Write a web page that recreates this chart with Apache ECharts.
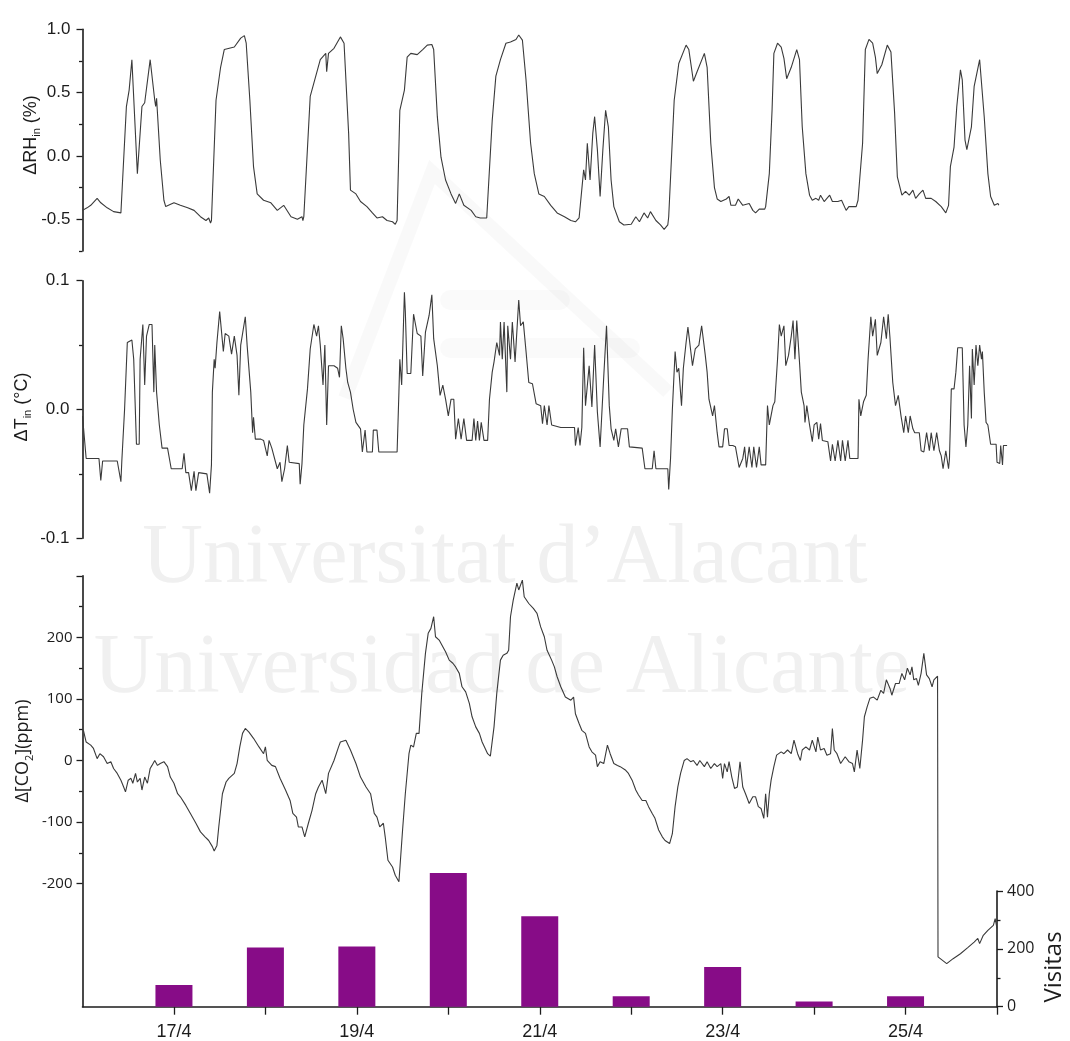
<!DOCTYPE html>
<html><head><meta charset="utf-8">
<script src="https://cdn.jsdelivr.net/npm/echarts@6/dist/echarts.min.js"></script>
<style>html,body{margin:0;padding:0;background:#fff}#chart{width:1070px;height:1041px}</style>
</head><body><div id="chart"></div>
<script>
// ---------- DATA (day of April, value) ----------
const rhSeries = [[16.00,-0.43],[16.05,-0.41],[16.09,-0.39],[16.16,-0.335],[16.20,-0.37],[16.27,-0.41],[16.34,-0.44],[16.42,-0.45],[16.43,-0.44],[16.48,0.39],[16.51,0.52],[16.54,0.76],[16.60,-0.14],[16.65,0.39],[16.68,0.42],[16.74,0.76],[16.79,0.44],[16.80,0.39],[16.81,0.455],[16.85,-0.03],[16.89,-0.35],[16.91,-0.40],[16.93,-0.39],[17.00,-0.37],[17.07,-0.39],[17.15,-0.41],[17.22,-0.43],[17.29,-0.48],[17.35,-0.51],[17.38,-0.49],[17.40,-0.53],[17.41,-0.51],[17.46,0.44],[17.51,0.70],[17.55,0.84],[17.66,0.86],[17.73,0.93],[17.77,0.95],[17.79,0.89],[17.83,0.44],[17.87,-0.085],[17.91,-0.30],[17.98,-0.35],[18.06,-0.37],[18.13,-0.43],[18.20,-0.39],[18.28,-0.48],[18.35,-0.50],[18.40,-0.48],[18.41,-0.51],[18.42,-0.48],[18.49,0.47],[18.60,0.76],[18.66,0.81],[18.67,0.665],[18.69,0.81],[18.75,0.85],[18.82,0.94],[18.83,0.955],[18.86,0.89],[18.91,0.18],[18.93,-0.27],[18.99,-0.30],[19.04,-0.36],
[19.11,-0.40],[19.17,-0.45],[19.22,-0.49],[19.28,-0.48],[19.33,-0.51],[19.39,-0.52],[19.42,-0.54],[19.44,-0.51],[19.47,0.36],[19.52,0.52],[19.55,0.78],[19.59,0.81],[19.66,0.80],[19.72,0.84],[19.77,0.875],[19.82,0.88],[19.84,0.84],[19.88,0.31],[19.92,-0.01],[19.97,-0.19],[20.03,-0.30],[20.08,-0.375],[20.12,-0.30],[20.17,-0.39],[20.25,-0.43],[20.30,-0.48],[20.35,-0.49],[20.42,-0.49],[20.43,-0.48],[20.48,0.28],[20.52,0.63],[20.57,0.76],[20.63,0.89],[20.68,0.90],[20.74,0.92],[20.77,0.955],[20.81,0.915],[20.85,0.60],[20.90,0.10],[20.94,-0.14],[20.99,-0.30],[21.05,-0.32],[21.12,-0.39],[21.19,-0.45],[21.27,-0.48],[21.34,-0.51],[21.39,-0.52],[21.43,-0.49],[21.45,-0.48],[21.48,-0.11],[21.50,-0.19],[21.52,0.10],[21.55,-0.19],[21.58,0.18],[21.60,0.31],[21.63,0.05],[21.66,-0.32],[21.69,0.05],[21.72,0.36],[21.75,0.23],[21.78,-0.19],[21.81,-0.40],[21.87,-0.52],[21.92,-0.545],[22.00,-0.54],[22.05,-0.48],[22.09,-0.52],[22.14,-0.45],[22.18,-0.49],[22.21,-0.44],[22.27,-0.51],[22.32,-0.545],[22.36,-0.58],[22.40,-0.545],[22.41,-0.48],[22.47,0.44],[22.52,0.73],[22.60,0.875],[22.63,0.84],[22.65,0.84],[22.68,0.59],[22.72,0.665],[22.80,0.81],[22.83,0.70],[22.87,0.10],[22.91,-0.25],[22.94,-0.34],[22.98,-0.36],
[23.04,-0.34],[23.07,-0.32],[23.09,-0.39],[23.14,-0.39],[23.17,-0.34],[23.22,-0.39],[23.29,-0.375],[23.33,-0.43],[23.36,-0.45],[23.40,-0.42],[23.46,-0.42],[23.47,-0.40],[23.51,-0.14],[23.54,0.36],[23.56,0.81],[23.60,0.89],[23.64,0.86],[23.67,0.77],[23.70,0.61],[23.75,0.70],[23.81,0.84],[23.84,0.76],[23.87,0.23],[23.91,-0.14],[23.95,-0.31],[23.98,-0.35],[24.02,-0.335],[24.05,-0.35],[24.07,-0.31],[24.11,-0.36],[24.17,-0.31],[24.20,-0.36],[24.26,-0.36],[24.30,-0.35],[24.35,-0.43],[24.38,-0.40],[24.46,-0.40],[24.48,-0.35],[24.53,0.10],[24.56,0.84],[24.60,0.92],[24.64,0.89],[24.67,0.78],[24.69,0.65],[24.74,0.72],[24.80,0.875],[24.84,0.82],[24.88,0.34],[24.91,-0.165],[24.96,-0.31],[25.00,-0.28],[25.04,-0.31],[25.08,-0.27],[25.11,-0.335],[25.15,-0.30],[25.19,-0.27],[25.22,-0.335],[25.28,-0.335],[25.33,-0.36],[25.39,-0.40],[25.44,-0.45],[25.47,-0.39],[25.49,-0.085],[25.53,0.07],[25.56,0.39],[25.60,0.68],[25.62,0.60],[25.65,0.125],[25.67,0.05],[25.72,0.23],[25.75,0.55],[25.81,0.76],[25.83,0.745],[25.86,0.31],[25.90,-0.14],[25.93,-0.32],[25.97,-0.39],[26.01,-0.375],[26.02,-0.39]];

const tSeries = [[16.00,-0.005],[16.04,-0.038],[16.18,-0.038],[16.20,-0.055],[16.22,-0.040],[16.38,-0.040],[16.42,-0.056],[16.43,-0.040],[16.46,0.0],[16.49,0.052],[16.54,0.054],[16.56,0.039],[16.59,-0.027],[16.62,-0.027],[16.63,0.039],[16.66,0.066],[16.68,0.019],[16.70,0.057],[16.73,0.066],[16.76,0.066],[16.78,0.0135],[16.79,0.050],[16.81,0.0135],[16.84,-0.012],[16.87,-0.030],[16.93,-0.030],[16.97,-0.046],[17.09,-0.046],[17.11,-0.034],[17.13,-0.049],[17.16,-0.049],[17.19,-0.063],[17.22,-0.048],[17.24,-0.063],[17.27,-0.049],[17.36,-0.050],[17.39,-0.065],[17.41,-0.043],[17.42,0.0135],[17.44,0.039],[17.45,0.032],[17.47,0.052],[17.50,0.076],[17.54,0.045],[17.56,0.059],[17.60,0.057],[17.63,0.043],[17.66,0.057],[17.69,0.042],[17.71,0.011],[17.73,0.050],[17.78,0.072],[17.80,0.050],[17.84,0.0135],[17.86,-0.018],[17.87,-0.006],[17.89,-0.023],[17.95,-0.023],[17.98,-0.024],[18.02,-0.036],[18.04,-0.024],[18.07,-0.030],[18.09,-0.030],[18.13,-0.046],[18.16,-0.041],[18.18,-0.056],[18.21,-0.046],[18.24,-0.028],[18.26,-0.041],[18.37,-0.042],[18.38,-0.058],[18.40,-0.042],[18.42,-0.012],[18.46,0.016],[18.49,0.047],[18.53,0.066],[18.56,0.057],[18.58,0.065],[18.60,0.050],[18.63,0.019],[18.65,0.050],[18.67,-0.012],[18.69,0.034],[18.75,0.034],[18.79,0.032],[18.81,0.025],[18.83,0.065],[18.85,0.055],[18.88,0.032],[18.90,0.021],[18.93,0.0135],[18.96,0.0],[18.99,-0.010],[19.04,-0.015],
[19.06,-0.033],[19.09,-0.016],[19.11,-0.033],[19.17,-0.033],[19.18,-0.016],[19.22,-0.016],[19.24,-0.033],[19.44,-0.033],[19.46,0.0135],[19.47,0.039],[19.49,0.019],[19.52,0.091],[19.53,0.076],[19.55,0.028],[19.59,0.028],[19.62,0.074],[19.66,0.059],[19.70,0.057],[19.72,0.026],[19.75,0.060],[19.79,0.073],[19.82,0.089],[19.84,0.055],[19.88,0.034],[19.91,0.011],[19.94,0.019],[19.97,0.008],[20.00,-0.005],[20.03,0.008],[20.06,0.008],[20.08,-0.023],[20.11,-0.007],[20.14,-0.023],[20.17,-0.007],[20.20,-0.024],[20.26,-0.024],[20.28,-0.007],[20.30,-0.024],[20.32,-0.009],[20.34,-0.024],[20.36,-0.010],[20.39,-0.024],[20.43,-0.024],[20.45,0.008],[20.48,0.029],[20.50,0.037],[20.53,0.052],[20.56,0.042],[20.57,0.068],[20.59,0.039],[20.61,0.068],[20.64,0.0135],[20.65,0.065],[20.68,0.039],[20.70,0.068],[20.73,0.037],[20.75,0.037],[20.77,0.085],[20.79,0.065],[20.82,0.068],[20.85,0.045],[20.88,0.021],[20.92,0.020],[20.96,0.0045],[21.01,0.003],[21.03,-0.011],[21.05,0.003],[21.08,-0.012],[21.10,0.003],[21.13,-0.012],[21.23,-0.014],[21.38,-0.014],[21.39,-0.028],[21.42,-0.014],[21.44,-0.028],[21.46,-0.014],[21.48,0.048],[21.50,0.003],[21.54,0.034],[21.57,0.002],[21.60,0.050],[21.63,-0.002],[21.66,-0.029],[21.70,0.026],[21.73,0.065],[21.76,0.003],[21.78,-0.015],[21.81,-0.024],[21.83,-0.015],[21.86,-0.029],[21.89,-0.015],[21.96,-0.015],[21.98,-0.029],[22.12,-0.030],[22.15,-0.046],[22.23,-0.046],[22.25,-0.032],[22.27,-0.046],[22.40,-0.046],[22.41,-0.062],[22.43,-0.038],[22.45,0.0],[22.48,0.045],[22.50,0.029],[22.52,0.032],[22.55,0.003],[22.57,0.032],[22.60,0.052],[22.62,0.064],[22.64,0.052],[22.67,0.034],[22.70,0.047],[22.74,0.050],[22.77,0.065],[22.79,0.065],[22.81,0.042],[22.83,0.029],[22.85,0.008],[22.89,-0.005],[22.91,0.003],[22.94,-0.018],
[22.96,-0.029],[23.00,-0.029],[23.02,-0.015],[23.05,-0.015],[23.07,-0.028],[23.11,-0.028],[23.14,-0.029],[23.18,-0.045],[23.22,-0.038],[23.24,-0.029],[23.26,-0.045],[23.29,-0.029],[23.32,-0.045],[23.34,-0.029],[23.37,-0.045],[23.40,-0.029],[23.42,-0.043],[23.47,-0.043],[23.49,0.003],[23.51,-0.012],[23.55,0.003],[23.57,0.006],[23.60,0.039],[23.62,0.066],[23.64,0.057],[23.67,0.065],[23.69,0.034],[23.72,0.042],[23.75,0.057],[23.77,0.069],[23.79,0.039],[23.81,0.069],[23.84,0.037],[23.86,0.0135],[23.89,0.003],[23.90,-0.010],[23.92,0.003],[23.95,-0.012],[23.98,-0.025],[24.00,-0.012],[24.03,-0.010],[24.05,-0.023],[24.07,-0.011],[24.09,-0.024],[24.15,-0.025],[24.18,-0.040],[24.20,-0.027],[24.23,-0.040],[24.26,-0.024],[24.29,-0.040],[24.31,-0.024],[24.34,-0.040],[24.37,-0.024],[24.39,-0.038],[24.48,-0.038],[24.49,0.008],[24.51,-0.005],[24.54,0.006],[24.57,0.011],[24.59,0.039],[24.62,0.072],[24.64,0.057],[24.67,0.070],[24.69,0.042],[24.73,0.052],[24.76,0.072],[24.79,0.055],[24.81,0.074],[24.83,0.055],[24.86,0.021],[24.89,0.003],[24.92,0.011],[24.95,-0.005],[24.98,-0.018],[25.00,-0.005],[25.03,-0.018],[25.05,-0.005],[25.08,-0.015],[25.10,-0.018],[25.15,-0.018],[25.17,-0.032],[25.20,-0.033],[25.23,-0.018],[25.26,-0.032],[25.28,-0.018],[25.31,-0.032],[25.34,-0.018],[25.37,-0.032],[25.39,-0.036],[25.41,-0.046],[25.44,-0.032],[25.47,-0.046],[25.48,-0.038],[25.50,0.016],[25.53,0.016],[25.55,0.029],[25.57,0.048],[25.62,0.048],[25.64,-0.012],[25.66,-0.029],[25.68,-0.012],[25.70,0.034],[25.72,-0.007],[25.73,0.047],[25.75,0.019],[25.77,0.050],[25.79,0.034],[25.81,0.050],[25.83,0.039],[25.84,0.045],[25.86,0.0135],[25.88,-0.010],[25.90,-0.012],[25.93,-0.027],[25.99,-0.027],[26.00,-0.041],[26.03,-0.042],[26.04,-0.028],[26.06,-0.043],[26.07,-0.028],[26.11,-0.028]];

const co2Series = [[16.01,49],[16.04,30],[16.09,25],[16.12,19.5],[16.16,3],[16.19,11],[16.23,6],[16.27,-5],[16.31,-2],[16.34,-13],[16.38,-21],[16.42,-32],[16.45,-43],[16.47,-51],[16.50,-32],[16.53,-29],[16.55,-37],[16.58,-21],[16.60,-35],[16.63,-29],[16.65,-48],[16.68,-27],[16.71,-37],[16.74,-13],[16.76,-8],[16.79,0],[16.82,-8],[16.85,-5],[16.89,-2],[16.93,-10],[16.96,-27],[17.00,-37],[17.04,-54],[17.07,-59],[17.13,-73],[17.18,-86],[17.24,-102],[17.29,-116],[17.34,-124],[17.38,-130],[17.42,-140],[17.44,-147],[17.47,-138],[17.49,-108],[17.53,-54],[17.57,-35],[17.60,-29],[17.66,-21],[17.69,-5],[17.72,22],[17.75,44],[17.78,52],[17.82,46],[17.87,36],[17.93,22],[17.98,11],[18.00,22],[18.02,0],[18.07,-8],[18.11,-10],[18.16,-29],[18.22,-48],[18.27,-65],[18.30,-86],[18.34,-92],[18.36,-108],[18.40,-108],[18.43,-124],[18.47,-102],[18.51,-81],[18.55,-54],[18.58,-43],[18.62,-32],[18.66,-54],[18.69,-21],[18.75,0],[18.80,22],
[18.82,30],[18.88,33],[18.93,17],[18.99,-5],[19.04,-27],[19.10,-43],[19.15,-54],[19.19,-86],[19.22,-92],[19.25,-108],[19.29,-102],[19.31,-124],[19.34,-162],[19.39,-173],[19.42,-186.5],[19.46,-197],[19.50,-113],[19.53,-54],[19.57,11],[19.59,25],[19.62,22],[19.65,44],[19.68,44],[19.71,109],[19.75,174],[19.78,206.5],[19.81,214.6],[19.84,233.5],[19.86,201],[19.90,195.6],[19.94,184.7],[19.97,176.6],[20.01,163],[20.05,158],[20.08,152],[20.12,141.5],[20.15,119.7],[20.19,111.5],[20.23,92.7],[20.26,71],[20.30,54.6],[20.34,44],[20.37,30],[20.43,11],[20.46,7],[20.50,54.6],[20.53,109],[20.57,163],[20.60,171],[20.64,174],[20.66,179],[20.68,233.5],[20.71,260.6],[20.75,288],[20.77,277],[20.81,293],[20.83,266],[20.88,255],[20.93,247],[20.97,239],[21.01,217],[21.05,201],[21.08,179],[21.13,163],[21.16,152],[21.19,136],[21.23,119.7],[21.28,103],[21.34,98],[21.37,103],[21.39,76],[21.43,60],[21.46,49],[21.50,44],[21.54,22],[21.57,14],[21.61,8.6],[21.63,-10],[21.66,-2],[21.70,-5],[21.74,25],[21.77,11],[21.81,-5],[21.85,-8],[21.88,-10],[21.94,-16],[21.97,-21],[22.01,-32],[22.05,-48],[22.08,-56],[22.12,-65],[22.16,-65],[22.19,-75],[22.23,-86],[22.26,-94],[22.30,-113],[22.34,-124],[22.37,-130],[22.42,-135],[22.45,-119],[22.48,-75],[22.51,-43],[22.54,-21],[22.58,0],[22.61,3],[22.65,-2],[22.68,0],[22.72,-8],[22.75,0],
[22.80,-10],[22.83,-2],[22.87,-13],[22.91,-5],[22.94,-10],[22.98,-5],[23.00,-29],[23.02,-5],[23.05,-18.5],[23.07,-2],[23.10,-27],[23.13,-45.5],[23.16,-43],[23.19,-2],[23.22,-43],[23.25,-54],[23.29,-70],[23.33,-59],[23.36,-59],[23.39,-75],[23.42,-78],[23.45,-94],[23.47,-54],[23.49,-92],[23.51,-54],[23.53,-32],[23.56,-10],[23.59,8.6],[23.64,14],[23.67,11],[23.71,17],[23.75,11],[23.78,33],[23.82,11],[23.85,0],[23.87,17],[23.91,22],[23.95,17],[23.98,33],[24.02,14],[24.04,38],[24.07,17],[24.11,19.5],[24.14,8.6],[24.18,11],[24.20,52],[24.22,17],[24.25,11],[24.29,-5],[24.34,6],[24.38,-2],[24.42,-5],[24.44,-18.5],[24.47,17],[24.50,-13],[24.53,33],[24.55,71],[24.58,87],[24.61,101],[24.65,103],[24.69,98],[24.73,114],[24.76,109],[24.79,131],[24.83,117],[24.85,106],[24.89,125],[24.93,125],[24.96,141.5],[24.99,131],[25.02,150],[25.05,139],[25.07,152],[25.09,131],[25.12,133],[25.14,122],[25.17,141.5],[25.20,174],[25.23,139],[25.26,133],[25.29,119.7],[25.31,131],[25.35,137],
[25.355,-319],[25.45,-330],[25.52,-322],[25.60,-314],[25.68,-304],[25.75,-295],[25.79,-289],[25.81,-297.5],[25.85,-284],[25.90,-276],[25.96,-268],[25.98,-257],[26.00,-273]];

const visitDays = [17, 18, 19, 20, 21, 22, 23, 24, 25];
const visitas = [75, 205, 208, 462, 313, 36, 137, 18, 36];

// tick values and labels
const rhTicks = [-0.5, 0, 0.5, 1.0];
const rhMinorTicks = [-0.75, -0.25, 0.25, 0.75];
const tTicks = [-0.1, 0, 0.1];
const tMinorTicks = [-0.05, 0.05];
const co2Ticks = [-200, -100, 0, 100, 200, 300];
const co2Labels = [-200, -100, 0, 100, 200];
const co2MinorTicks = [-150, -50, 50, 150, 250];
const visitTicks = [0, 200, 400];
const visitMinorTicks = [100, 300];
const dayTicks = [17, 18, 19, 20, 21, 22, 23, 24, 25, 26];
const dayLabelDays = [17, 19, 21, 23, 25];
const dayLabels = ['17/4', '19/4', '21/4', '23/4', '25/4'];

// ---------- CHART ----------
const INK = '#1c1c1c';
const LINE = '#3a3a3a';
const SANS = 'Liberation Sans';
const OPEN = 'Open Sans';

function yAx(grid, min, max, pos, ticks, len, labels, labelOpt, showLine) {
  return {
    type: 'value', gridIndex: grid, min: min, max: max, position: pos,
    axisLine: { show: !!showLine, lineStyle: { color: INK, width: 1.6 } },
    axisTick: { show: true, customValues: ticks, length: len, inside: false, lineStyle: { color: INK, width: 1.3 } },
    axisLabel: labels ? Object.assign({ show: true, customValues: labels, color: INK }, labelOpt) : { show: false },
    splitLine: { show: false }, minorTick: { show: false }
  };
}

const chart = echarts.init(document.getElementById('chart'), null, { renderer: 'canvas' });
const grids = [
  { left: 82.5, top: 29.3, width: 925.5, height: 221.6 },
  { left: 82.5, top: 280.7, width: 925.5, height: 257.6 },
  { left: 82.5, top: 575.8, width: 914.5, height: 430.9 },
  { left: 82.5, top: 891, width: 914.5, height: 115.7 }
].map(g => Object.assign({ containLabel: false, outerBoundsMode: 'none', show: false }, g));

const option = {
  animation: false,
  backgroundColor: '#ffffff',
  grid: grids,
  xAxis: [
    { type: 'value', gridIndex: 0, min: 16, max: 26.12, show: false },
    { type: 'value', gridIndex: 1, min: 16, max: 26.12, show: false },
    { type: 'value', gridIndex: 2, min: 16, max: 26, position: 'bottom',
      axisLine: { show: true, onZero: false, lineStyle: { color: INK, width: 1.6 } },
      axisTick: { show: true, customValues: dayTicks, length: 8, lineStyle: { color: INK, width: 1.3 } },
      axisLabel: { show: true, customValues: dayLabelDays, margin: 16, color: INK, fontFamily: SANS, fontSize: 18,
        formatter: v => dayLabels[dayLabelDays.indexOf(Math.round(v))] || '' },
      splitLine: { show: false } },
    { type: 'value', gridIndex: 3, min: 16, max: 26, show: false }
  ],
  yAxis: [
    yAx(0, -0.75, 1.0, 'left', rhTicks, 6, rhTicks, { margin: 12, fontFamily: SANS, fontSize: 17, formatter: v => v.toFixed(1) }, true),
    yAx(0, -0.75, 1.0, 'left', rhMinorTicks, 3.5, null, null, false),
    yAx(1, -0.1, 0.1, 'left', tTicks, 6, tTicks, { margin: 13, fontFamily: SANS, fontSize: 17, formatter: v => v.toFixed(1) }, true),
    yAx(1, -0.1, 0.1, 'left', tMinorTicks, 3.5, null, null, false),
    yAx(2, -400, 300, 'left', co2Ticks, 6, co2Labels, { margin: 10, fontFamily: OPEN, fontSize: 15, formatter: v => String(Math.round(v)) }, true),
    yAx(2, -400, 300, 'left', co2MinorTicks, 3.5, null, null, false),
    yAx(3, 0, 400, 'right', visitTicks, 6, visitTicks, { margin: 10, fontFamily: OPEN, fontSize: 16, formatter: v => String(Math.round(v)) }, true),
    yAx(3, 0, 400, 'right', visitMinorTicks, 3.5, null, null, false)
  ],
  series: [
    { type: 'bar', xAxisIndex: 3, yAxisIndex: 6, barWidth: 37, clip: false, z: 2,
      itemStyle: { color: '#870c87' },
      data: visitDays.map((d, i) => [d, visitas[i]]) },
    { type: 'line', xAxisIndex: 0, yAxisIndex: 0, data: rhSeries, showSymbol: false, symbol: 'none', z: 5,
      lineStyle: { color: LINE, width: 1.1 } },
    { type: 'line', xAxisIndex: 1, yAxisIndex: 2, data: tSeries, showSymbol: false, symbol: 'none', z: 5, clip: false,
      lineStyle: { color: LINE, width: 1.1 } },
    { type: 'line', xAxisIndex: 2, yAxisIndex: 4, data: co2Series, showSymbol: false, symbol: 'none', z: 5,
      lineStyle: { color: LINE, width: 1.1 } }
  ],
  graphic: [
    // faint watermark
    { type: 'polyline', z: 0, silent: true, shape: { points: [[345, 398], [432, 172], [668, 392]] },
      style: { stroke: 'rgba(0,0,0,0.025)', lineWidth: 14, fill: null } },
    { type: 'rect', z: 0, silent: true, shape: { x: 440, y: 290, width: 130, height: 20, r: 10 }, style: { fill: 'rgba(0,0,0,0.02)' } },
    { type: 'rect', z: 0, silent: true, shape: { x: 440, y: 338, width: 200, height: 20, r: 10 }, style: { fill: 'rgba(0,0,0,0.02)' } },
    { type: 'text', z: 0, silent: true, x: 505, y: 602,
      style: { text: 'Universitat d\u2019Alacant', font: '84px "Liberation Serif"', fill: '#f0f0f0', align: 'center', verticalAlign: 'bottom' } },
    { type: 'text', z: 0, silent: true, x: 502, y: 712,
      style: { text: 'Universidad de Alicante', font: '84px "Liberation Serif"', fill: '#f0f0f0', align: 'center', verticalAlign: 'bottom' } },
    // axis titles
    { type: 'text', z: 100, x: 31.5, y: 135, rotation: Math.PI / 2,
      style: { text: '{a|\u0394RH}{s|in}{a| (%)}', align: 'center', verticalAlign: 'middle',
        rich: { a: { fontSize: 18, fontFamily: SANS, fill: INK, lineHeight: 22 },
                s: { fontSize: 11, fontFamily: SANS, fill: INK, lineHeight: 8, verticalAlign: 'bottom' } } } },
    { type: 'text', z: 100, x: 22, y: 407, rotation: Math.PI / 2,
      style: { text: '{a|\u0394T}{s|in}{a| (\u00B0C)}', align: 'center', verticalAlign: 'middle',
        rich: { a: { fontSize: 18, fontFamily: SANS, fill: INK, lineHeight: 22 },
                s: { fontSize: 11, fontFamily: SANS, fill: INK, lineHeight: 8, verticalAlign: 'bottom' } } } },
    { type: 'text', z: 100, x: 23, y: 751, rotation: Math.PI / 2,
      style: { text: '{a|\u0394[CO}{s|2}{a|](ppm)}', align: 'center', verticalAlign: 'middle',
        rich: { a: { fontSize: 18, fontFamily: OPEN, fill: INK, lineHeight: 24 },
                s: { fontSize: 11, fontFamily: OPEN, fill: INK, lineHeight: 8, verticalAlign: 'bottom' } } } },
    { type: 'text', z: 100, x: 1054, y: 967, rotation: Math.PI / 2,
      style: { text: 'Visitas', font: '24px "Open Sans"', fill: INK, align: 'center', verticalAlign: 'middle' } }
  ]
};
chart.setOption(option);
</script>
</body></html>
